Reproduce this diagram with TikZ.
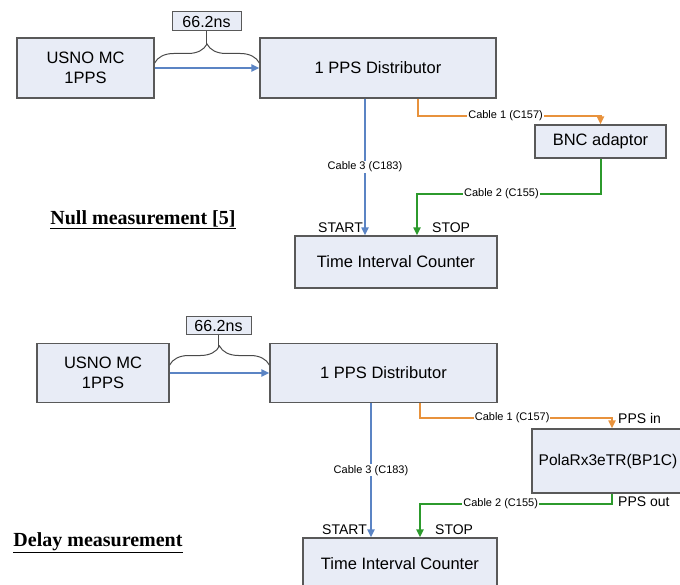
\documentclass[tikz,border=0pt]{standalone}
\usepackage{fontspec}
\setmainfont{Liberation Serif}
\setsansfont{Liberation Sans}
\usepackage{tikz}
\usetikzlibrary{arrows,arrows.meta,positioning,shapes,decorations.pathreplacing}

\definecolor{boxfill}{HTML}{E8ECF6}
\definecolor{boxline}{HTML}{595959}
\definecolor{wireblue}{HTML}{5B84C4}
\definecolor{wireorange}{HTML}{E8923C}
\definecolor{wiregreen}{HTML}{2C9A2C}
\definecolor{bracecol}{HTML}{4A4A4A}

\begin{document}
\begin{tikzpicture}
		[x=1pt,y=-1pt,
		 font=\sffamily\fontsize{16.5}{20}\selectfont,
		 block/.style  = {draw=boxline, fill=boxfill, line width=1.3pt, shape=rectangle, align=center, inner sep=1pt},
		 nsblock/.style = {block, line width=1pt, font=\sffamily\fontsize{16}{18}\selectfont},
		 cable/.style  = {font=\sffamily\fontsize{11}{12}\selectfont, fill=white, inner sep=1pt},
		 port/.style   = {font=\sffamily\fontsize{14}{16}\selectfont, inner sep=1pt},
		 ttl/.style    = {font=\rmfamily\bfseries\fontsize{20}{22}\selectfont},
		 brace/.style  = {draw=bracecol, line width=1pt, decorate, decoration={brace,amplitude=19pt}},
		 wire/.style   = {-{Triangle[length=8pt,width=7pt]}, line width=2pt},
		 bwire/.style  = {wire, draw=wireblue},
		 owire/.style  = {wire, draw=wireorange},
		 gwire/.style  = {wire, draw=wiregreen},
		]

		\useasboundingbox (0,0) rectangle (680,585);

		% null measurement
		\node [block, minimum width=137pt, minimum height=60pt] (usno1)  at (85.5,68)    {USNO MC\\1PPS};
		\node [block, minimum width=236pt, minimum height=60pt] (dist1)  at (378,68)     {1 PPS Distributor};
		\node [nsblock, minimum width=69pt, minimum height=19pt] (ns1)   at (206.5,21.5) {66.2ns};
		\node [block, minimum width=131pt, minimum height=33pt] (bnc)    at (600.5,141.5) {BNC adaptor};
		\node [block, minimum width=202pt, minimum height=52pt] (tic1)   at (396,262)    {Time Interval Counter};
		\node [ttl] (nulltitle) at (143,220) {\underline{Null measurement [5]}};

		\coordinate (tip1) at (206.5,44);
		\coordinate (c3a) at ([xshift=-13pt]dist1.south);
		\coordinate (c3b) at (c3a |- tic1.north);
		\coordinate (c2b) at ([xshift=21pt]tic1.north);

		\draw[bwire] (usno1.east) -- (dist1.west);
		\draw[brace] ([yshift=5pt]usno1.east) -- ([yshift=5pt]dist1.west);
		\draw[draw=bracecol, line width=1pt] (tip1) -- (ns1.south);
		\draw[owire] ([xshift=40pt]dist1.south) -- ++(0,17) -| node[cable, pos=0.24] {Cable 1 (C157)} (bnc.north);
		\draw[bwire] (c3a) -- node[cable] {Cable 3 (C183)} (c3b);
		\draw[gwire] (bnc.south) -- ++(0,35) -| node[cable, pos=0.27] {Cable 2 (C155)} (c2b);

		\node [port, above left=2pt and 1pt of c3b]   (start1) {START};
		\node [port, above right=2pt and 14pt of c2b] (stop1)  {STOP};

		% delay measurement
		\node [block, minimum width=132pt, minimum height=59pt] (usno2)  at (103,373)     {USNO MC\\1PPS};
		\node [block, minimum width=227pt, minimum height=59pt] (dist2)  at (383.5,373)   {1 PPS Distributor};
		\node [nsblock, minimum width=65pt, minimum height=17pt] (ns2)   at (218.5,325.5) {66.2ns};
		\node [block, minimum width=152pt, minimum height=64pt, font=\sffamily\fontsize{15.5}{18}\selectfont] (polarx) at (608,461) {PolaRx3eTR(BP1C)};
		\node [block, minimum width=194pt, minimum height=52pt] (tic2)   at (400,564)     {Time Interval Counter};
		\node [ttl] (delaytitle) at (98,543) {\underline{Delay measurement}};

		\coordinate (tip2) at (218.5,347);
		\coordinate (c3c) at ([xshift=-12.5pt]dist2.south);
		\coordinate (c3d) at (c3c |- tic2.north);
		\coordinate (ppsin) at ([xshift=4pt]polarx.north);
		\coordinate (ppsout) at ([xshift=4pt]polarx.south);
		\coordinate (c2d) at ([xshift=20pt]tic2.north);

		\draw[bwire] (usno2.east) -- (dist2.west);
		\draw[brace] ([yshift=8pt]usno2.east) -- ([yshift=8pt]dist2.west);
		\draw[draw=bracecol, line width=1pt] (tip2) -- (ns2.south);
		\draw[owire] ([xshift=36.5pt]dist2.south) -- ++(0,15) -| node[cable, pos=0.24] {Cable 1 (C157)} (ppsin);
		\draw[bwire] (c3c) -- node[cable] {Cable 3 (C183)} (c3d);
		\draw[gwire] (ppsout) -- ++(0,10) -| node[cable, pos=0.29] {Cable 2 (C155)} (c2d);

		\node [port, above right=4pt and 5pt of ppsin] (ppsinlbl)  {PPS in};
		\node [port, anchor=west] (ppsoutlbl) at (617,502) {PPS out};
		\node [port, above left=2pt and 3pt of c3d]   (start2) {START};
		\node [port, above right=2pt and 14pt of c2d] (stop2)  {STOP};

\end{tikzpicture}
\end{document}
